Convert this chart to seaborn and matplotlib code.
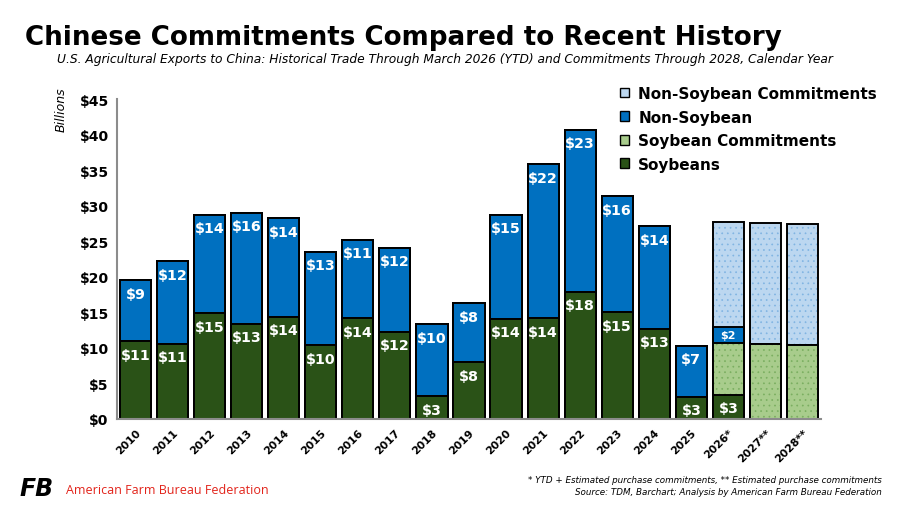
"""
Chinese commitments vs recent history: stacked bars of US ag exports to China.
"""

import numpy as np
import pandas as pd
import matplotlib
matplotlib.use("Agg")
import matplotlib.pyplot as plt
from matplotlib.patches import Patch
import seaborn as sns

# data (billions of USD)
years = ["2010", "2011", "2012", "2013", "2014", "2015", "2016", "2017", "2018",
         "2019", "2020", "2021", "2022", "2023", "2024", "2025", "2026*",
         "2027**", "2028**"]
soybeans = [10.9, 10.6, 14.9, 13.4, 14.4, 10.4, 14.2, 12.3, 3.2,
            8.0, 14.1, 14.2, 17.9, 15.0, 12.7, 3.1, 3.4, 0, 0]
soy_commit = [0] * 16 + [7.3, 10.55, 10.4]
non_soy = [8.6, 11.6, 13.8, 15.6, 13.8, 13.1, 11.0, 11.8, 10.1,
           8.3, 14.6, 21.6, 22.8, 16.3, 14.4, 7.2, 2.2, 0, 0]
non_soy_commit = [0] * 16 + [14.85, 17.0, 17.0]

legend_labels = ["Non-Soybean Commitments", "Non-Soybean", "Soybean Commitments", "Soybeans"]

C_SOY = "#2a5217"
C_SOY_COMMIT = "#a8cc8c"
C_SOY_DOT = "#7aae60"
C_NON = "#0070c0"
C_NON_COMMIT = "#bcd7f0"
C_NON_DOT = "#80b4e2"

df = pd.DataFrame({"year": years, "soy": soybeans, "soy_c": soy_commit,
                   "non": non_soy, "non_c": non_soy_commit})
df["top_soy"] = df["soy"]
df["top_soy_c"] = df["top_soy"] + df["soy_c"]
df["top_non"] = df["top_soy_c"] + df["non"]
df["top_all"] = df["top_non"] + df["non_c"]

sns.set_theme(style="white")
plt.rcParams["font.family"] = ["DejaVu Sans"]
plt.rcParams["text.color"] = "black"
plt.rcParams["xtick.color"] = "black"
plt.rcParams["ytick.color"] = "black"
plt.rcParams["hatch.linewidth"] = 0.5

fig = plt.figure(figsize=(9, 5.06), dpi=100)
ax = fig.add_axes([117 / 900, 86 / 506, 704 / 900, 320 / 506])

W = 0.84
EDGE_LW = 1.4


def layer(col, face, dot=None):
    # filled (and optionally dotted) layer, then a black outline on top
    if dot is not None:
        sns.barplot(data=df, x="year", y=col, color=face, saturation=1, width=W,
                    edgecolor=dot, linewidth=0, hatch="...", ax=ax, errorbar=None)
    else:
        sns.barplot(data=df, x="year", y=col, color=face, saturation=1, width=W,
                    linewidth=0, ax=ax, errorbar=None)
    sns.barplot(data=df, x="year", y=col, fill=False, saturation=1, width=W,
                edgecolor="black", linewidth=EDGE_LW, ax=ax, errorbar=None)


# draw the cumulative tops from tallest to shortest so each one covers the one above
layer("top_all", C_NON_COMMIT, C_NON_DOT)
layer("top_non", C_NON)
layer("top_soy_c", C_SOY_COMMIT, C_SOY_DOT)
layer("top_soy", C_SOY)

# value labels
OFF = 1.9
for i, row in df.iterrows():
    if row["soy"] > 0:
        ax.text(i, row["top_soy"] - OFF, f"${row['soy']:.0f}", color="white",
                fontsize=10.3, fontweight="bold", ha="center", va="center")
    if row["non"] > 0:
        if row["non"] < 4:
            ax.text(i, row["top_soy_c"] + row["non"] / 2, f"${row['non']:.0f}",
                    color="white", fontsize=8, fontweight="bold",
                    ha="center", va="center")
        else:
            ax.text(i, row["top_non"] - OFF, f"${row['non']:.0f}", color="white",
                    fontsize=10.3, fontweight="bold", ha="center", va="center")

ax.set_ylim(0, 45)
ax.set_xlim(-0.5, len(years) - 0.5)
ax.set_yticks(np.arange(0, 46, 5))
ax.set_yticklabels([f"${v}" for v in range(0, 46, 5)], fontsize=10, fontweight="bold")
ax.set_xticks(range(len(years)))
ax.set_xticklabels(years, fontsize=7.8, fontweight="bold", rotation=45,
                   ha="right", rotation_mode="anchor")
ax.tick_params(axis="both", length=0, pad=6)
ax.set_xlabel("")
ax.set_ylabel("")
for s in ["top", "right"]:
    ax.spines[s].set_visible(False)
for s in ["left", "bottom"]:
    ax.spines[s].set_color("#8c8c8c")
    ax.spines[s].set_linewidth(1.5)

fig.text(61 / 900, 1 - 110 / 506, "Billions", rotation=90, fontsize=9,
         fontstyle="italic", ha="center", va="center")

# legend
handles = [
    Patch(facecolor=C_NON_COMMIT, edgecolor="black", linewidth=1),
    Patch(facecolor=C_NON, edgecolor="black", linewidth=1),
    Patch(facecolor=C_SOY_COMMIT, edgecolor="black", linewidth=1),
    Patch(facecolor=C_SOY, edgecolor="black", linewidth=1),
]
leg = fig.legend(handles, legend_labels, loc="upper left",
                 bbox_to_anchor=(620 / 900, 1 - 87 / 506), frameon=False,
                 prop={"size": 11, "weight": "bold"}, handlelength=0.6,
                 handleheight=0.6, handletextpad=0.6, labelspacing=0.56,
                 borderaxespad=0, borderpad=0)

# titles
fig.text(25 / 900, 1 - 38 / 506, "Chinese Commitments Compared to Recent History",
         fontsize=18.8, fontweight="bold", ha="left", va="center")
fig.text(833 / 900, 1 - 60 / 506,
         "U.S. Agricultural Exports to China: Historical Trade Through March 2026 (YTD) "
         "and Commitments Through 2028, Calendar Year",
         fontsize=8.85, fontstyle="italic", ha="right", va="center")

# footer
fig.text(20 / 900, 1 - 489 / 506, "FB", fontsize=17, fontweight="bold",
         fontstyle="italic", color="black", ha="left", va="center")
fig.text(66 / 900, 1 - 491 / 506, "American Farm Bureau Federation",
         fontsize=9, color="#e2231a", family=["Open Sans", "DejaVu Sans"],
         ha="left", va="center")
fig.text(882 / 900, 1 - 481 / 506,
         "* YTD + Estimated purchase commitments, ** Estimated purchase commitments",
         fontsize=6.3, fontstyle="italic", ha="right", va="center")
fig.text(882 / 900, 1 - 493 / 506,
         "Source: TDM, Barchart; Analysis by American Farm Bureau Federation",
         fontsize=6.3, fontstyle="italic", ha="right", va="center")

fig.savefig("out.png", dpi=100)
